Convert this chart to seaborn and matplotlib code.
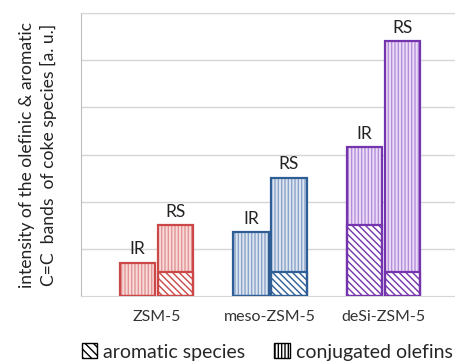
import pandas as pd
import matplotlib.pyplot as plt
import seaborn as sns
from matplotlib.patches import Patch

# datos (unidades arbitrarias)
catalizadores = ['ZSM-5', 'ZSM-5', 'meso-ZSM-5', 'meso-ZSM-5', 'deSi-ZSM-5', 'deSi-ZSM-5']
tecnica = ['IR', 'RS', 'IR', 'RS', 'IR', 'RS']
posicion = [1, 2, 4, 5, 7, 8]
total = [0.7, 1.5, 1.35, 2.5, 3.15, 5.4]
aromaticos = [0.0, 0.5, 0.0, 0.5, 1.5, 0.5]
etiquetas_x = ['ZSM-5', 'meso-ZSM-5', 'deSi-ZSM-5']
pos_etiquetas = [1.5, 4.5, 7.5]

colores = {
    'ZSM-5': ('#CC4848', '#F7DADA', '#E49494'),
    'meso-ZSM-5': ('#2F5D95', '#DDE5F1', '#8AA3C8'),
    'deSi-ZSM-5': ('#7434AE', '#EBDDF5', '#B58DDC'),
}

df = pd.DataFrame({'cat': catalizadores, 'tec': tecnica, 'pos': posicion,
                   'total': total, 'arom': aromaticos})

sns.set_style('white')
plt.rcParams['font.family'] = ['Lato', 'DejaVu Sans']
plt.rcParams['hatch.linewidth'] = 1.0

fig = plt.figure(figsize=(4.55, 3.63), dpi=100)
ax = fig.add_axes([81 / 455, 1 - 296 / 363, 378 / 455, 283 / 363])

for cat, (borde, relleno, rayas) in colores.items():
    sub = df[df['cat'] == cat]
    # parte de olefinas conjugadas (barra total con rayas verticales)
    sns.barplot(data=sub, x='pos', y='total', native_scale=True, color=relleno,
                saturation=1, width=0.94, edgecolor=rayas, hatch='|||||',
                linewidth=0, ax=ax, zorder=2)
    # parte aromatica
    sns.barplot(data=sub, x='pos', y='arom', native_scale=True, color='white',
                saturation=1, width=0.94, edgecolor=borde, hatch='\\\\\\\\\\',
                linewidth=0, ax=ax, zorder=3)
    # contornos
    sns.barplot(data=sub, x='pos', y='total', native_scale=True, fill=False,
                width=0.94, edgecolor=borde, linewidth=1.6, ax=ax, zorder=4)
    sns.barplot(data=sub, x='pos', y='arom', native_scale=True,
                fill=False, width=0.94, edgecolor=borde, linewidth=1.6, ax=ax, zorder=4)

for _, fila in df.iterrows():
    ax.text(fila['pos'], fila['total'] + 0.12, fila['tec'], ha='center', va='bottom',
            fontsize=12.5, color='#222222')

ax.set_xlim(-0.5, 9.5)
ax.set_ylim(0, 6)
ax.set_yticks([1, 2, 3, 4, 5, 6])
ax.set_yticklabels([])
ax.tick_params(axis='y', length=0)
ax.yaxis.grid(True, color='#D6D6D6', linewidth=1, zorder=0)
ax.set_axisbelow(True)

ax.set_xticks([x - 0.5 for x in range(10)])
ax.set_xticklabels([])
ax.tick_params(axis='x', length=5, color='#D6D6D6', width=1, direction='out')
for p, lab in zip(pos_etiquetas, etiquetas_x):
    ax.text(p, -0.3, lab, ha='center', va='top', fontsize=11.5, color='#333333',
            transform=ax.transData)

ax.spines['right'].set_visible(False)
ax.spines['top'].set_color('#D6D6D6')
ax.spines['bottom'].set_color('#D6D6D6')
ax.spines['left'].set_color('#BDBDBD')
ax.set_xlabel('')
ax.set_ylabel('intensity of the olefinic & aromatic\nC=C  bands  of coke species [a. u.]',
              fontsize=12.6, color='#222222', labelpad=14, linespacing=1.3)

manejadores = [Patch(facecolor='white', edgecolor='black', hatch='\\\\\\\\', linewidth=1),
               Patch(facecolor='white', edgecolor='black', hatch='|||||', linewidth=1)]
fig.legend(manejadores, ['aromatic species', 'conjugated olefins'], ncol=2,
           loc='center left', bbox_to_anchor=(64 / 455, 1 - 352 / 363), frameon=False,
           fontsize=14, handlelength=0.8, handleheight=0.8, handletextpad=0.3,
           columnspacing=1.5, borderpad=0.4)

fig.savefig('out.png', dpi=100)
plt.close()
